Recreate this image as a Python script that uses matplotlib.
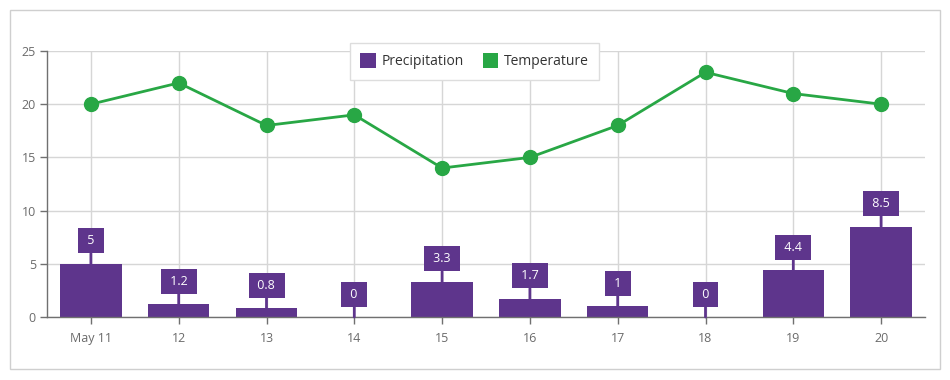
import matplotlib
matplotlib.use("Agg")
import matplotlib.pyplot as plt
from matplotlib.patches import Patch, Rectangle

plt.rcParams['font.family'] = ['Open Sans', 'DejaVu Sans']

categories = ["May 11", "12", "13", "14", "15", "16", "17", "18", "19", "20"]
precipitation = [5, 1.2, 0.8, 0, 3.3, 1.7, 1, 0, 4.4, 8.5]
temperature = [20, 22, 18, 19, 14, 15, 18, 23, 21, 20]

purple = "#5e358c"
green = "#28a745"
grid_c = "#d6d6d6"
axis_c = "#707070"
text_c = "#6b6b6b"

W, H = 950, 380
fig = plt.figure(figsize=(W / 100, H / 100), dpi=100)
fig.patches.append(Rectangle((10 / W, 11 / H), 930 / W, 359 / H, transform=fig.transFigure,
                             fill=False, edgecolor="#cfcfcf", lw=1))

ax = fig.add_axes([47 / W, 63 / H, 878 / W, 266 / H])
x = list(range(len(categories)))

ax.bar(x, precipitation, width=0.7, color=purple, zorder=2)
ax.plot(x, temperature, color=green, lw=2, marker='o', markersize=10, zorder=3)

for i, v in enumerate(precipitation):
    label = f"{v:g}"
    ax.annotate(f" {label} ", xy=(i, v), xytext=(0, 16.5), textcoords='offset points',
                ha='center', va='center', color='white', fontsize=9, zorder=4,
                bbox=dict(boxstyle='square,pad=0.48', fc=purple, ec='none'),
                arrowprops=dict(arrowstyle='-', color=purple, lw=2, shrinkA=0, shrinkB=0))

ax.set_xlim(-0.5, len(categories) - 0.5)
ax.set_ylim(0, 25)
ax.set_yticks([0, 5, 10, 15, 20, 25])
ax.set_xticks(x)
ax.set_xticklabels(categories)

ax.grid(True, color=grid_c, lw=1, zorder=0)
ax.set_axisbelow(True)
for s in ['top', 'right']:
    ax.spines[s].set_visible(False)
for s in ['left', 'bottom']:
    ax.spines[s].set_color(axis_c)
    ax.spines[s].set_linewidth(1)
ax.tick_params(axis='both', colors=axis_c, labelcolor=text_c, labelsize=9, length=5, width=1)
ax.tick_params(axis='x', pad=6)
ax.tick_params(axis='y', pad=3)

handles = [Patch(facecolor=purple, edgecolor='none', label='Precipitation'),
           Patch(facecolor=green, edgecolor='none', label='Temperature')]
leg = ax.legend(handles=handles, loc='center', bbox_to_anchor=(0.487, 0.961), ncol=2,
                frameon=True, fancybox=False, edgecolor='#dddddd', framealpha=1,
                fontsize=10, handlelength=1.1, handleheight=1.2, handletextpad=0.4,
                columnspacing=1.4, borderpad=0.75)
leg.get_frame().set_linewidth(1)
for t in leg.get_texts():
    t.set_color('#333333')

fig.savefig("out.png", dpi=100)
